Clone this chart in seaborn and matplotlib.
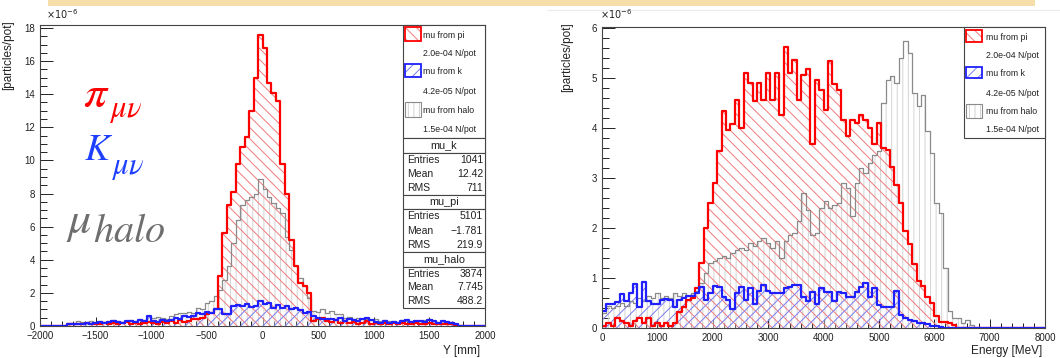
import numpy as np
import seaborn as sns
import matplotlib.pyplot as plt
from matplotlib.patches import Rectangle
from matplotlib.ticker import MultipleLocator

# Y [mm]: 100 bins of 40 mm from -2000 to 2000, values in 1e-6 particles/pot
y_edges = np.arange(-2000, 2001, 40)
y_pi = [0, 0, 0, 0, 0, 0,
        0.1, 0.1, 0.15, 0.1, 0.2, 0.1, 0.15, 0.1, 0.2,
        0.15, 0.2, 0.1, 0.2, 0.25, 0.15, 0.2, 0.1, 0.2, 0.25,
        0.2, 0.15, 0.25, 0.2, 0.3, 0.2, 0.35, 0.25, 0.3, 0.4,
        0.45, 0.5, 0.7, 0.8, 1.0,
        3.0, 5.6, 7.3, 8.1, 9.8, 10.8, 11.4, 13.0, 15.0, 17.6, 16.8,
        14.7, 14.1, 13.6, 9.8, 8.0, 5.2, 3.6, 2.6, 2.4, 2.0, 0.3,
        0.4, 0.5, 0.3, 0.25, 0.35, 0.2, 0.3, 0.2,
        0.25, 0.15, 0.2, 0.3, 0.15, 0.2, 0.1, 0.2, 0.15, 0.2,
        0.1, 0.2, 0.15, 0.1, 0.2, 0.15, 0.1, 0.2, 0.1,
        0.15, 0.1, 0.1, 0.15, 0.05,
        0, 0, 0, 0, 0, 0]
y_k = [0, 0, 0, 0, 0, 0,
       0.1, 0.12, 0.15, 0.12, 0.2, 0.15, 0.2,
       0.25, 0.2, 0.25, 0.3, 0.25, 0.2, 0.3,
       0.3, 0.25, 0.35, 0.3, 0.6, 0.3,
       0.25, 0.35, 0.3, 0.35, 0.5, 0.4,
       0.6, 0.55, 0.6, 0.8, 0.75, 0.85,
       0.8, 1.0, 1.05, 0.7, 0.75,
       1.2, 1.25, 1.2, 1.3, 1.15, 1.2, 1.5, 1.3,
       1.4, 1.1, 1.25, 1.1, 1.2, 1.0, 1.1, 0.95, 0.8, 0.85,
       0.6, 0.5, 0.45, 0.4,
       0.4, 0.35, 0.5, 0.3, 0.45, 0.35, 0.3, 0.4, 0.5, 0.35,
       0.25, 0.2, 0.3, 0.2, 0.25, 0.2, 0.3, 0.35, 0.25, 0.3,
       0.3, 0.25, 0.35, 0.3, 0.2, 0.3, 0.25, 0.2,
       0.15,
       0, 0, 0, 0, 0, 0]
y_halo = [0, 0, 0, 0, 0, 0,
          0.2, 0.2, 0.3, 0.25, 0.2, 0.3, 0.25,
          0.3, 0.25, 0.3, 0.35, 0.3, 0.25, 0.3,
          0.35, 0.3, 0.45, 0.35, 0.6, 0.5,
          0.55, 0.5, 0.45, 0.6, 0.7, 0.8,
          0.8, 0.85, 0.8, 1.1, 1.0, 1.4,
          1.5, 1.8, 2.2, 2.8, 3.6, 5.0, 6.4, 7.3, 7.6, 7.8, 8.0, 8.9,
          8.3, 7.8, 7.4, 7.1, 6.8, 5.4, 4.6, 3.6, 2.9, 2.4, 1.7, 0.9,
          0.85, 1.0, 0.8, 0.9, 0.7,
          0.7, 0.5, 0.55, 0.45, 0.5, 0.4, 0.45, 0.35,
          0.4, 0.3, 0.35, 0.3, 0.3, 0.25, 0.35, 0.3, 0.25, 0.3,
          0.3, 0.35, 0.45, 0.3, 0.25, 0.3, 0.2, 0.25,
          0.15,
          0, 0, 0, 0, 0, 0]

# Energy [MeV]: 100 bins of 80 MeV from 0 to 8000
e_edges = np.arange(0, 8001, 80)
e_pi = [0.05, 0.1, 0.05, 0.2, 0.15, 0.1, 0.05, 0.15, 0.2, 0.1,
        0.2, 0.05, 0.1, 0.05, 0.1, 0.05, 0.1,
        0.33, 0.43, 0.56, 0.6, 0.8, 1.3, 2.0, 2.5, 2.9, 3.55,
        4.33, 3.96, 4.09, 4.56, 3.99, 5.09, 4.89, 4.53, 4.89, 4.56,
        5.09, 4.56, 5.09, 4.26, 5.63, 5.09, 5.36, 4.56, 5.06, 5.19,
        3.69, 4.96, 4.76, 4.36, 5.33, 4.89, 4.76, 4.16, 3.83, 4.16,
        4.09, 4.26, 4.16, 3.99, 3.69, 4.09, 3.59, 3.56, 3.23, 2.86,
        2.49, 1.93, 1.69, 1.29, 0.95, 0.83, 0.63, 0.49, 0.25, 0.12,
        0.12, 0.1, 0.05,
        0, 0, 0, 0, 0, 0, 0, 0, 0, 0,
        0, 0, 0, 0, 0, 0, 0, 0, 0, 0]
e_k = [0.35, 0.49, 0.49, 0.53, 0.69, 0.55, 0.7, 0.89, 0.43, 0.92,
       0.55, 0.49, 0.49, 0.56, 0.59, 0.56, 0.43, 0.56, 0.6, 0.65,
       0.65, 0.7, 0.83, 0.56, 0.7, 0.85, 0.82, 0.62, 0.56, 0.39,
       0.69, 0.83, 0.56, 0.8, 0.49, 0.75, 0.86, 0.75, 0.7, 0.7,
       0.7, 0.8, 0.83, 0.86, 0.86, 0.62, 0.53, 0.73, 0.49, 0.8,
       0.73, 0.73, 0.53, 0.73, 0.7, 0.62, 0.62, 0.73, 0.83, 0.9,
       0.62, 0.8, 0.46, 0.43, 0.43, 0.43, 0.75, 0.26, 0.2, 0.16,
       0.15, 0.1, 0.1, 0.08, 0.05, 0.03, 0.02, 0, 0, 0,
       0, 0, 0, 0, 0, 0, 0, 0, 0, 0,
       0, 0, 0, 0, 0, 0, 0, 0, 0, 0]
e_halo = [0.3, 0.45, 0.4, 0.45, 0.5, 0.45, 0.55, 0.5, 0.6, 0.55,
          0.65, 0.6, 0.7, 0.6, 0.65, 0.6, 0.7, 0.65, 0.7, 0.65,
          0.7, 0.75, 0.9, 1.1, 1.3, 1.35, 1.4, 1.45, 1.4, 1.5,
          1.55, 1.6, 1.55, 1.7, 1.65, 1.75, 1.8, 1.7, 1.6, 1.75,
          1.4, 1.75, 1.85, 1.9, 2.15, 2.7, 2.35, 1.85, 1.9, 2.4,
          2.55, 2.4, 2.45, 2.5, 2.9, 2.8, 2.25, 2.9, 3.2, 3.1,
          3.3, 3.45, 3.55, 4.5, 4.95, 5.05, 4.9, 5.4, 5.75, 5.5,
          4.7, 4.45, 4.65, 3.95, 3.5, 2.5, 2.3, 1.2, 0.35, 0.2,
          0.2, 0.1, 0.15, 0.05, 0, 0, 0, 0, 0, 0,
          0, 0, 0, 0, 0, 0, 0, 0, 0, 0]

legend_labels = ['mu from pi', 'mu from k', 'mu from halo']
legend_norms = ['2.0e-04 N/pot', '4.2e-05 N/pot', '1.5e-04 N/pot']
stat_names = ['mu_k', 'mu_pi', 'mu_halo']
stat_entries = ['1041', '5101', '3874']
stat_means = ['12.42', '\u22121.781', '7.745']
stat_rms = ['711', '219.9', '488.2']

RED, BLUE, GREY = '#ff0000', '#1f1fff', '#8a8a8a'
HATCH = {'pi': '\\\\\\', 'k': '///', 'halo': '|||'}
HATCH_COL = {'pi': '#f07a7a', 'k': '#7c7cf0', 'halo': '#d2d2d2'}

sns.set_theme(style='ticks')
plt.rcParams['font.family'] = ['Liberation Sans', 'DejaVu Sans']
plt.rcParams['hatch.linewidth'] = 0.7

W, H = 1060, 358
fig = plt.figure(figsize=(W / 100, H / 100), dpi=100)


def fx(px):
    return px / W


def fy(py):
    return 1 - py / H


ax1 = fig.add_axes([fx(40), fy(326), 445 / W, 301 / H])
ax2 = fig.add_axes([fx(602), fy(328), 443 / W, 301 / H])


def draw_set(ax, edges, pi, k, halo):
    centers = (edges[:-1] + edges[1:]) / 2
    bins = edges.tolist()
    series = [('halo', halo, GREY, 0.9), ('pi', pi, RED, 1.6), ('k', k, BLUE, 1.6)]
    for name, vals, col, lw in series:
        sns.histplot(x=centers, weights=vals, bins=bins, element='step', fill=True,
                     color=HATCH_COL[name], facecolor='none', edgecolor=HATCH_COL[name],
                     linewidth=0, hatch=HATCH[name], ax=ax)
    for name, vals, col, lw in series:
        sns.histplot(x=centers, weights=vals, bins=bins, element='step', fill=False,
                     color=col, linewidth=lw, ax=ax)


draw_set(ax1, y_edges, y_pi, y_k, y_halo)
draw_set(ax2, e_edges, e_pi, e_k, e_halo)

ax1.set_xlim(-2000, 2000)
ax1.set_ylim(0, 18.18)
ax1.xaxis.set_major_locator(MultipleLocator(500))
ax1.xaxis.set_minor_locator(MultipleLocator(100))
ax1.yaxis.set_major_locator(MultipleLocator(2))
ax1.yaxis.set_minor_locator(MultipleLocator(0.5))

ax2.set_xlim(0, 8000)
ax2.set_ylim(0, 6.02)
ax2.xaxis.set_major_locator(MultipleLocator(1000))
ax2.xaxis.set_minor_locator(MultipleLocator(200))
ax2.yaxis.set_major_locator(MultipleLocator(1))
ax2.yaxis.set_minor_locator(MultipleLocator(0.2))

for ax, xlab in ((ax1, 'Y [mm]'), (ax2, 'Energy [MeV]')):
    ax.tick_params(which='both', direction='in', top=False, right=False,
                   labelsize=7, colors='#222222', width=0.7)
    ax.tick_params(axis='x', which='major', length=6.5, pad=3.5)
    ax.tick_params(axis='x', which='minor', length=3.3)
    ax.tick_params(axis='y', which='major', length=9.4, pad=3.5)
    ax.tick_params(axis='y', which='minor', length=4.7)
    for s in ax.spines.values():
        s.set_linewidth(0.8)
        s.set_color('#444444')
    ax.set_xlabel(xlab, loc='right', fontsize=8.5, color='#222222')
    ax.set_ylabel('[particles/pot]', loc='top', fontsize=8.5, color='#222222')

ax1.xaxis.set_label_coords(0.989, -0.062)
ax1.yaxis.set_label_coords(-0.058, 1.017)
ax2.xaxis.set_label_coords(0.993, -0.058)
ax2.yaxis.set_label_coords(-0.065, 1.017)

# exponent labels
for x0 in (46, 600):
    fig.text(fx(x0), fy(19), r'$\times10^{-6}$', fontsize=7, color='#222222',
             math_fontfamily='dejavusans', va='baseline')


def box(x0, y0, x1, y1, **kw):
    fig.add_artist(Rectangle((fx(x0), fy(y1)), (x1 - x0) / W, (y1 - y0) / H,
                             transform=fig.transFigure, **kw))


def legend(x0, x1, top, bottom, swatch_x, text_x, rows):
    box(x0, top, x1, bottom, fill=True, facecolor='white', edgecolor='#444444', linewidth=0.8)
    keys = ['pi', 'k', 'halo']
    cols = [RED, BLUE, GREY]
    for i, (sy0, sy1, ty, ny) in enumerate(rows):
        box(swatch_x, sy0, swatch_x + 16, sy1, fill=False, edgecolor=HATCH_COL[keys[i]],
            linewidth=0, hatch=HATCH[keys[i]])
        box(swatch_x, sy0, swatch_x + 16, sy1, fill=False, edgecolor=cols[i],
            linewidth=1.3 if i < 2 else 0.8)
        fig.text(fx(text_x), fy(ty), legend_labels[i], fontsize=6.3, va='center', color='#222222')
        fig.text(fx(text_x), fy(ny), legend_norms[i], fontsize=6.3, va='center', color='#222222')


legend(403, 485, 25, 138, 405, 423,
       [(27, 41, 35, 53), (64, 77, 72, 92), (102, 117, 110, 129)])
legend(964, 1045, 27, 138, 966, 986,
       [(30, 42, 37, 55), (67, 78, 73, 93), (104, 118, 111, 130)])

# statistics boxes
stat_blocks = [(138, 153, 195), (195, 209, 252), (252, 267, 308)]
for i, (t, hb, b) in enumerate(stat_blocks):
    box(403, t, 485, hb, fill=True, facecolor='white', edgecolor='#444444', linewidth=0.8)
    box(403, hb, 485, b, fill=True, facecolor='white', edgecolor='#444444', linewidth=0.8)
    fig.text(fx(444), fy((t + hb) / 2), stat_names[i], fontsize=7.8, ha='center',
             va='center', color='#222222')
    rows = [('Entries', stat_entries[i]), ('Mean', stat_means[i]), ('RMS', stat_rms[i])]
    step = (b - hb) / 3
    for j, (lab, val) in enumerate(rows):
        yy = hb + step * (j + 0.5)
        fig.text(fx(407), fy(yy), lab, fontsize=7.5, va='center', color='#222222')
        fig.text(fx(483), fy(yy), val, fontsize=7.5, va='center', ha='right', color='#222222')

# process labels: main symbol and its (large) subscript
labels = [
    (r'$\pi$', 83, 107, 33, r'$\mu\nu$', 109, 117, 22, '#ff0000'),
    (r'$K$', 84, 160, 27, r'$\mu\nu$', 111, 174, 22, '#1f3fff'),
    (r'$\mu$', 66, 233, 33, r'$halo$', 93, 242, 29, '#6e6e6e'),
]
for main, mx, my, ms, sub, sx, sy, ss, col in labels:
    fig.text(fx(mx), fy(my), main, fontsize=ms, color=col, math_fontfamily='stix', va='baseline')
    fig.text(fx(sx), fy(sy), sub, fontsize=ss, color=col, math_fontfamily='stix', va='baseline')

# slide decoration on top
fig.add_artist(Rectangle((fx(48), fy(6)), (1035 - 48) / W, 6 / H, transform=fig.transFigure,
                         facecolor='#f5deaa', edgecolor='none'))
fig.add_artist(plt.Line2D([fx(547), 1], [fy(10), fy(10)], transform=fig.transFigure,
                          color='#ececec', linewidth=0.8))

fig.savefig('out.png', dpi=100)
